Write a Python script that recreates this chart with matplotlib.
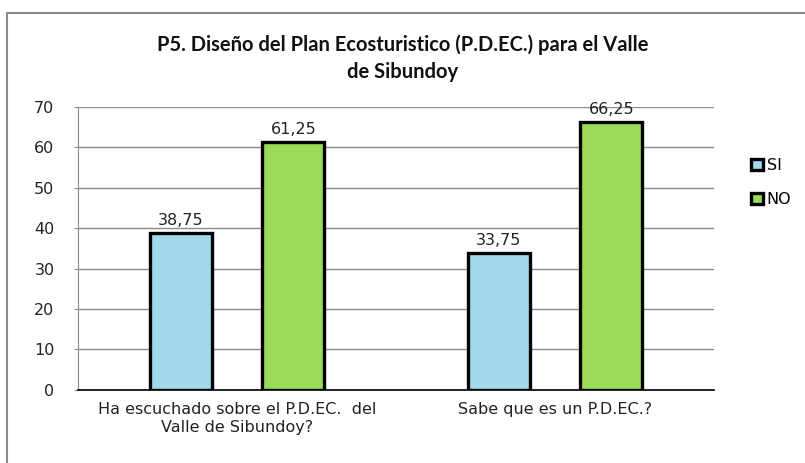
import matplotlib.pyplot as plt
import numpy as np
from matplotlib.patches import Rectangle

categories = ["Ha escuchado sobre el P.D.EC.  del\nValle de Sibundoy?", "Sabe que es un P.D.EC.?"]
si_values = [38.75, 33.75]
no_values = [61.25, 66.25]
series_names = ["SI", "NO"]

fig = plt.figure(figsize=(8.05, 4.63), dpi=100)
ax = fig.add_axes([0.097, 0.158, 0.79, 0.611])

# marco exterior del grafico
fig.patches.append(Rectangle((0.009, -0.05), 1.1, 1.022, transform=fig.transFigure,
                             fill=False, edgecolor="#8a8a8a", linewidth=1.5))

x = np.arange(len(categories))
w = 0.195
off = 0.177
b1 = ax.bar(x - off, si_values, w, color="#a0daec", edgecolor="black", linewidth=2.4,
            label=series_names[0], zorder=3)
b2 = ax.bar(x + off, no_values, w, color="#9cdb59", edgecolor="black", linewidth=2.4,
            label=series_names[1], zorder=3)

for bars in (b1, b2):
    for r in bars:
        ax.annotate(f"{r.get_height():.2f}".replace(".", ","),
                    (r.get_x() + r.get_width() / 2, r.get_height()),
                    xytext=(0, 4), textcoords="offset points", ha="center", va="bottom",
                    fontsize=11.5, color="#222222")

ax.set_xlim(-0.5, 1.5)
ax.set_ylim(0, 70)
ax.set_yticks(range(0, 71, 10))
ax.set_xticks(x)
ax.set_xticklabels(categories, fontsize=11.5, color="#222222", linespacing=1.25)
ax.tick_params(axis="x", length=0, pad=9)
ax.tick_params(axis="y", labelsize=11.5, colors="#222222", length=3, color="#8a8a8a", pad=14)
ax.yaxis.grid(True, color="#8a8a8a", linewidth=1, zorder=0)
ax.set_axisbelow(True)
for s in ["top", "right"]:
    ax.spines[s].set_visible(False)
ax.spines["left"].set_color("#8a8a8a")
ax.spines["bottom"].set_color("black")
ax.spines["bottom"].set_linewidth(1.2)

fig.text(0.5, 0.875, "P5. Diseño del Plan Ecosturistico (P.D.EC.) para el Valle\nde Sibundoy",
         ha="center", va="center", fontsize=14.5, fontweight="bold", family="Lato",
         linespacing=1.45, color="#111111")

leg = ax.legend(loc="upper left", bbox_to_anchor=(1.035, 0.87), frameon=False, fontsize=11.5,
                handlelength=0.8, handleheight=0.7, labelspacing=1.2, handletextpad=0.2)

plt.savefig("out.png", dpi=100)
